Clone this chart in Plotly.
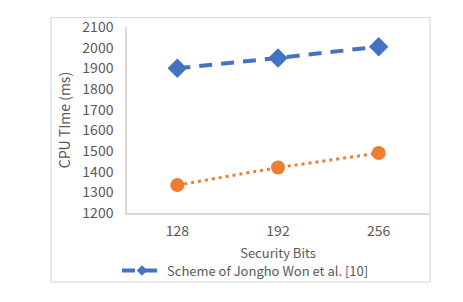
import plotly.graph_objects as go

categories = ["128", "192", "256"]
won_scheme = [1900, 1950, 2005]
proposed_scheme = [1335, 1420, 1490]
y_ticks = [1200, 1300, 1400, 1500, 1600, 1700, 1800, 1900, 2000, 2100]
won_name = "Scheme of Jongho Won et al. [10]"

BLUE = "#4472C4"
ORANGE = "#ED7D31"
GRAY = "#595959"
LINE = "#D9D9D9"
FONT = "Noto Sans CJK SC"

# page has an 8px body margin; figure placed at (8, 8)
OFF = 8
W, H = 463 - 2 * OFF, 302 - 2 * OFF
L, T = 127 - OFF, 27 - OFF
R = (W + OFF) - 429
B = (H + OFF) - 213
pw, ph = W - L - R, H - T - B

fig = go.Figure()
fig.add_trace(go.Scatter(
    x=list(range(len(categories))), y=won_scheme, mode="lines+markers",
    line=dict(color=BLUE, width=4, dash="13px,9px"),
    marker=dict(symbol="diamond", size=15, color=BLUE),
    showlegend=False, name=won_name))
fig.add_trace(go.Scatter(
    x=list(range(len(categories))), y=proposed_scheme, mode="lines+markers",
    line=dict(color=ORANGE, width=3, dash="3px,4px"),
    marker=dict(symbol="circle", size=14, color=ORANGE),
    showlegend=False, name="Proposed"))
# legend-only entry with a smaller marker
fig.add_trace(go.Scatter(
    x=[None], y=[None], mode="lines+markers",
    line=dict(color=BLUE, width=4, dash="13px,9px"),
    marker=dict(symbol="diamond", size=8, color=BLUE),
    showlegend=True, name=won_name))

def px2paper_x(px):
    return (px - OFF - L) / pw

def px2paper_y(py):
    return (H - B - (py - OFF)) / ph

fig.add_shape(type="rect", xref="paper", yref="paper",
              x0=px2paper_x(51), x1=px2paper_x(430),
              y0=px2paper_y(282), y1=px2paper_y(17.5),
              line=dict(color=LINE, width=1.2), fillcolor="rgba(0,0,0,0)", layer="below")

fig.update_layout(
    width=W, height=H,
    margin=dict(l=L, r=R, t=T, b=B, pad=0, autoexpand=False),
    paper_bgcolor="white", plot_bgcolor="white",
    font=dict(family=FONT, size=14, color=GRAY),
    showlegend=True,
    legend=dict(x=px2paper_x(117), y=px2paper_y(270.5), xanchor="left", yanchor="middle",
                orientation="h", itemwidth=40, font=dict(size=13, color=GRAY),
                bgcolor="rgba(0,0,0,0)", borderwidth=0),
    xaxis=dict(
        range=[-0.5, 2.5], tickmode="array", tickvals=list(range(len(categories))),
        ticktext=categories, showgrid=False, zeroline=False,
        showline=True, linecolor=LINE, linewidth=1.5, ticks="",
        ticklabelstandoff=4,
        title=dict(text="Security Bits", standoff=10, font=dict(size=13, color=GRAY)),
        fixedrange=True),
    yaxis=dict(
        range=[1200, 2100], tickmode="array", tickvals=y_ticks,
        showgrid=False, zeroline=False,
        showline=True, linecolor=LINE, linewidth=1.5, ticks="",
        ticklabelstandoff=9,
        title=dict(text="CPU TIme (ms)", standoff=8, font=dict(size=14, color=GRAY)),
        fixedrange=True),
)

fig.write_html("out.html")
